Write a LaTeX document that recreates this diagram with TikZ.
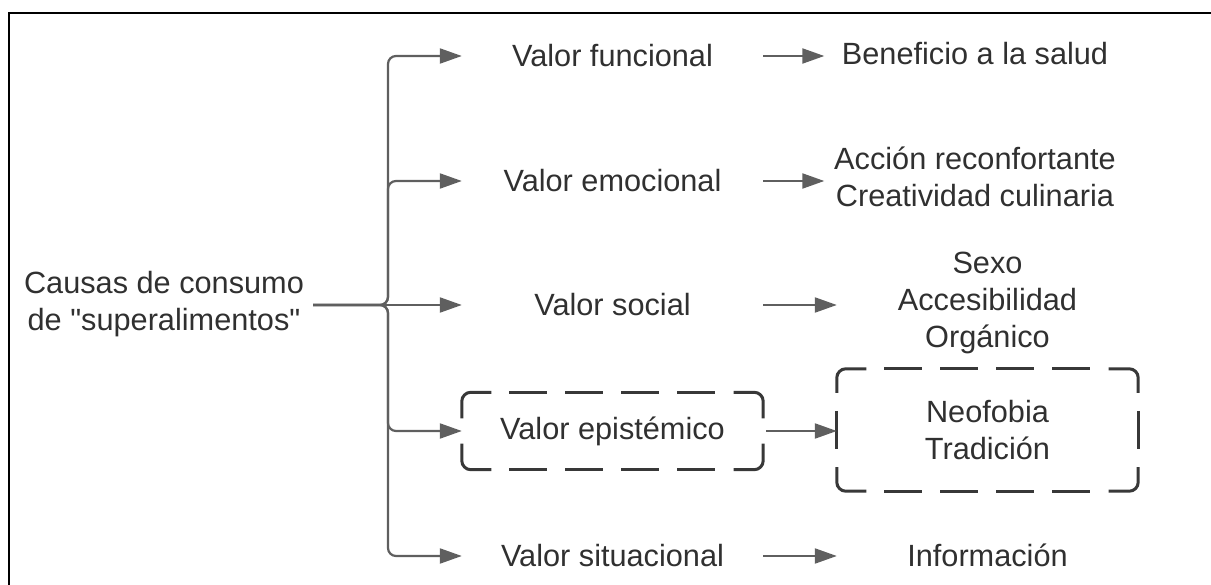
\documentclass[tikz,border=0pt]{standalone}
\usepackage{fontspec}
\setmainfont{Liberation Sans}
\usetikzlibrary{arrows.meta,calc}
\definecolor{txt}{HTML}{303030}
\definecolor{ln}{HTML}{5F5F5F}
\definecolor{dsh}{HTML}{383838}
\newcommand\dashcorners[3]{%
  \draw[dframe, rounded corners=9pt] ($(#1.north west)+(0,#3)$) -- (#1.north west) -- ($(#1.north west)+(#2,0)$);
  \draw[dframe, rounded corners=9pt] ($(#1.north east)+(0,#3)$) -- (#1.north east) -- ($(#1.north east)+(-#2,0)$);
  \draw[dframe, rounded corners=9pt] ($(#1.south west)+(0,-#3)$) -- (#1.south west) -- ($(#1.south west)+(#2,0)$);
  \draw[dframe, rounded corners=9pt] ($(#1.south east)+(0,-#3)$) -- (#1.south east) -- ($(#1.south east)+(-#2,0)$);
  \draw[dframe, dash pattern=on 38pt off 18pt] ($(#1.north west)+(#2+18,0)$) -- ($(#1.north east)+(-#2-18,0)$);
  \draw[dframe, dash pattern=on 38pt off 18pt] ($(#1.south west)+(#2+18,0)$) -- ($(#1.south east)+(-#2-18,0)$);
}
\begin{document}
\begin{tikzpicture}[x=1pt,y=-1pt,
  every node/.style={font=\fontsize{30.7}{37}\selectfont, text=txt, align=center, inner sep=0pt},
  conn/.style={draw=ln, line width=2.2pt, -{Triangle[length=22pt,width=15pt]}, rounded corners=8pt},
  mid/.style={minimum width=301pt, minimum height=77pt},
  dframe/.style={draw=dsh, line width=3pt, line cap=butt}]
\useasboundingbox (0,0) rectangle (1211,585);
\clip (0,0) rectangle (1211,585);
\draw[line width=2.5pt, draw=black] (9,13) rectangle (1240,620);

\node[minimum width=298pt] (causas) at (164,304) {Causas de consumo\\de \textquotedbl superalimentos\textquotedbl};

\node[mid] (vf) at (612.5,56) {Valor funcional};
\node[mid] (ve) at (612.5,181) {Valor emocional};
\node[mid] (vs) at (612.5,305) {Valor social};
\node[mid] (vep) at (612.5,431) {Valor epistémico};
\node[mid] (vsi) at (612.5,556) {Valor situacional};

\node[mid] (rf) at (975,54) {Beneficio a la salud};
\node[mid] (re) at (975,177) {Acción reconfortante\\Creatividad culinaria};
\node[mid] (rs) at (987.5,303) {Sexo\\Accesibilidad\\Orgánico};
\node[mid,minimum height=122pt] (rep) at (987.5,430) {Neofobia\\Tradición};
\node[mid] (rsi) at (987.5,555) {Información};

% dashed frames
\dashcorners{vep}{29.5}{26}
\dashcorners{rep}{29.5}{24}
\draw[dframe] ($(rep.north west)+(0,42)$) -- ($(rep.south west)+(0,-42)$);
\draw[dframe] ($(rep.north east)+(0,42)$) -- ($(rep.south east)+(0,-42)$);

\coordinate (j) at (388,305);
\draw[conn] (causas.east |- j) -- (j) |- (vf.west);
\draw[conn] (causas.east |- j) -- (j) |- (ve.west);
\draw[conn] (causas.east |- j) -- (vs.west);
\draw[conn] (causas.east |- j) -- (j) |- (vep.west);
\draw[conn] (causas.east |- j) -- (j) |- (vsi.west);

\draw[conn] (vf.east) -- (vf.east -| rf.west);
\draw[conn] (ve.east) -- (ve.east -| re.west);
\draw[conn] (vs.east) -- (vs.east -| rs.west);
\draw[conn, shorten <=3pt] (vep.east) -- (vep.east -| rep.west);
\draw[conn] (vsi.east) -- (vsi.east -| rsi.west);
\end{tikzpicture}
\end{document}
